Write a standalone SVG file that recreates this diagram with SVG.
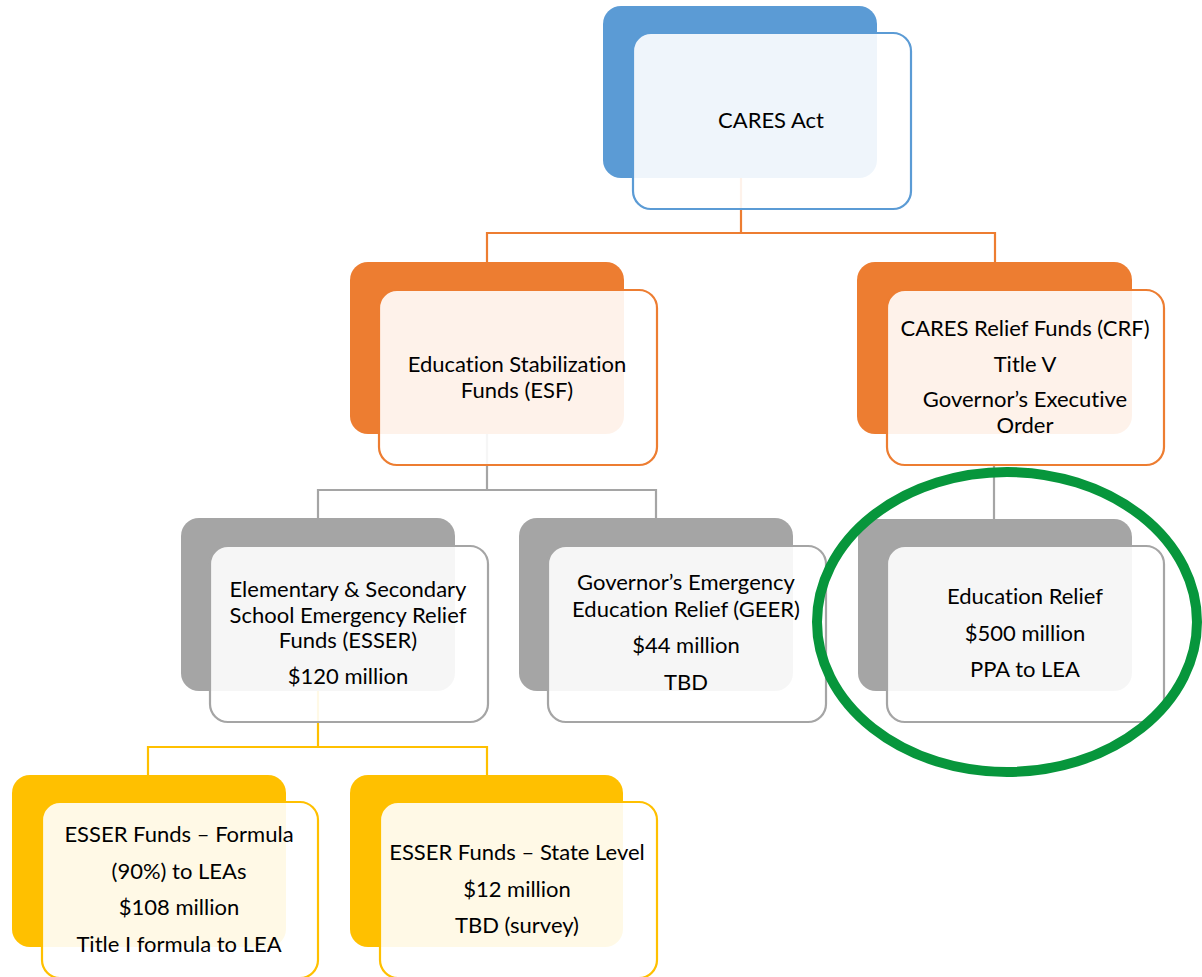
<svg xmlns="http://www.w3.org/2000/svg" width="1202" height="977" viewBox="0 0 1202 977">
<style>
text{font-family:Lato,"Liberation Sans",sans-serif;font-size:22px;fill:#000;text-anchor:middle;font-variant-ligatures:none;font-feature-settings:"liga" 0,"dlig" 0}
.front{fill:#fff;fill-opacity:0.9;stroke-width:2.2}
.conn{fill:none;stroke-width:2.2}
.blue .back{fill:#5B9BD5}.blue .front{stroke:#5B9BD5}
.orange .back{fill:#ED7D31}.orange .front{stroke:#ED7D31}
.gray .back{fill:#A5A5A5}.gray .front{stroke:#A5A5A5}
.yellow .back{fill:#FFC000}.yellow .front{stroke:#FFC000}
</style>
<rect width="1202" height="977" fill="#fff"/>
<g id="connectors">
<path class="conn" stroke="#ED7D31" d="M741 178V233M487 233H995M487 232V262M995 232V262"/>
<path class="conn" stroke="#A5A5A5" d="M487 434V490M318 490H656M318 489V519M656 489V519M994 465V519"/>
<path class="conn" stroke="#FFC000" d="M318 691V747M148 747H487M148 746V775M487 746V775"/>
</g>
<g id="cares" class="blue">
<rect class="back" x="603" y="6" width="274" height="172" rx="18"/>
<rect class="front" x="633" y="33" width="278" height="176" rx="18"/>
<text x="771" y="128">CARES Act</text>
</g>
<g id="esf" class="orange">
<rect class="back" x="350" y="262" width="274" height="172" rx="18"/>
<rect class="front" x="379" y="290" width="278" height="175" rx="18"/>
<text x="517" y="372">Education Stabilization</text>
<text x="517" y="398">Funds (ESF)</text>
</g>
<g id="crf" class="orange">
<rect class="back" x="857" y="262" width="275" height="172" rx="18"/>
<rect class="front" x="887" y="290" width="277" height="175" rx="18"/>
<text x="1025" y="336">CARES Relief Funds (CRF)</text>
<text x="1025" y="372">Title V</text>
<text x="1025" y="407">Governor’s Executive</text>
<text x="1025" y="433">Order</text>
</g>
<g id="esser" class="gray">
<rect class="back" x="181" y="518" width="274" height="173" rx="18"/>
<rect class="front" x="210" y="546" width="278" height="176" rx="18"/>
<text x="348" y="597">Elementary &amp; Secondary</text>
<text x="348" y="623">School Emergency Relief</text>
<text x="348" y="648">Funds (ESSER)</text>
<text x="348" y="684">$120 million</text>
</g>
<g id="geer" class="gray">
<rect class="back" x="519" y="518" width="274" height="173" rx="18"/>
<rect class="front" x="548" y="546" width="278" height="176" rx="18"/>
<text x="686" y="590">Governor’s Emergency</text>
<text x="686" y="617">Education Relief (GEER)</text>
<text x="686" y="653">$44 million</text>
<text x="686" y="690">TBD</text>
</g>
<g id="education-relief" class="gray">
<rect class="back" x="858" y="519" width="274" height="172" rx="18"/>
<rect class="front" x="887" y="546" width="277" height="176" rx="18"/>
<text x="1025" y="604">Education Relief</text>
<text x="1025" y="641">$500 million</text>
<text x="1025" y="677">PPA to LEA</text>
</g>
<g id="highlight">
<ellipse cx="1007" cy="622" rx="190" ry="150" fill="none" stroke="#07963C" stroke-width="10"/>
</g>
<g id="esser-formula" class="yellow">
<rect class="back" x="12" y="775" width="274" height="172" rx="18"/>
<rect class="front" x="42" y="802" width="276" height="176" rx="18"/>
<text x="179" y="842">ESSER Funds – Formula</text>
<text x="179" y="879">(90%) to LEAs</text>
<text x="179" y="915">$108 million</text>
<text x="179" y="952">Title I formula to LEA</text>
</g>
<g id="esser-state" class="yellow">
<rect class="back" x="350" y="775" width="273" height="172" rx="18"/>
<rect class="front" x="380" y="802" width="277" height="176" rx="18"/>
<text x="517" y="860">ESSER Funds – State Level</text>
<text x="517" y="897">$12 million</text>
<text x="517" y="933">TBD (survey)</text>
</g>
</svg>
